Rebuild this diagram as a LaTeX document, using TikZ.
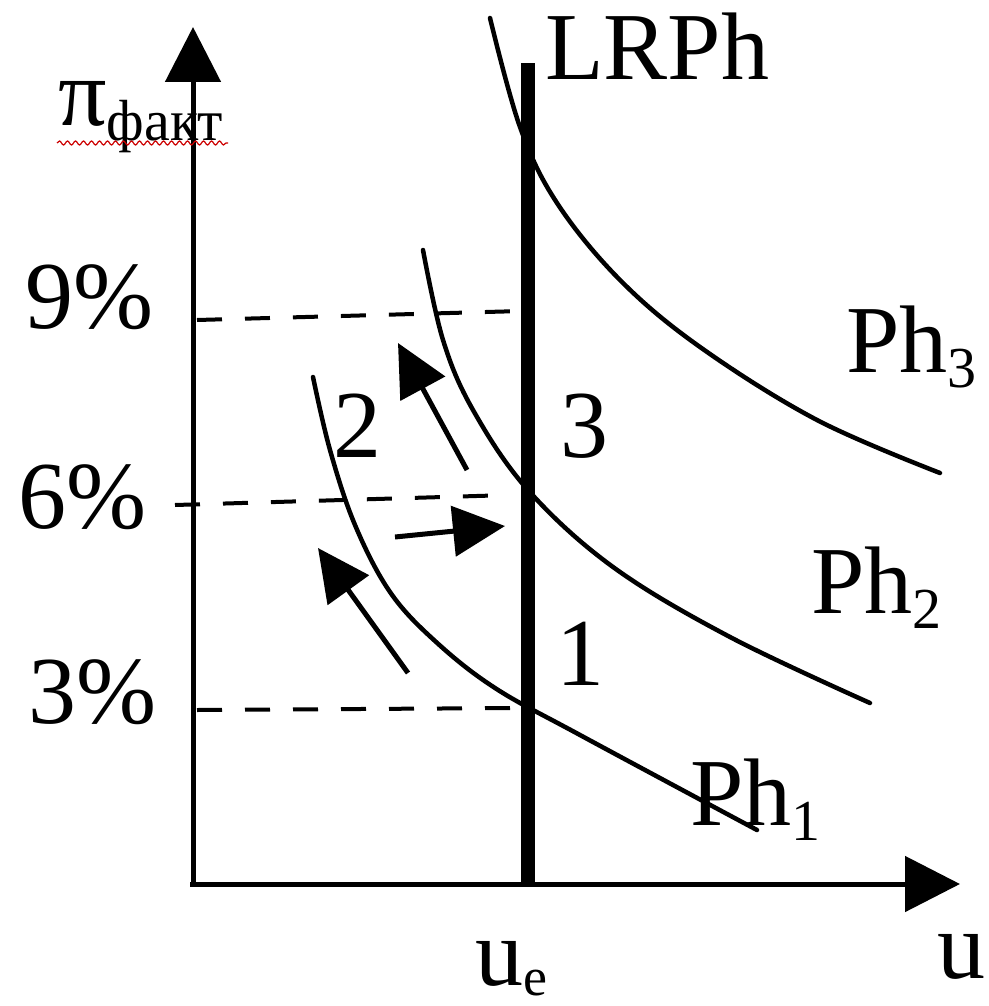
\documentclass[tikz,border=0pt]{standalone}
\usepackage{fontspec}
\setmainfont{Liberation Serif}
\newfontfamily\tnr{Liberation Serif}
\usetikzlibrary{arrows.meta,decorations.pathmorphing}
\newcommand\subx[1]{\raisebox{-15pt}{\fontsize{58}{60}\selectfont #1}}
\tikzset{
  lbl/.style={inner sep=0pt, anchor=base west, font=\tnr\fontsize{96}{100}\selectfont},
  axisline/.style={line width=5pt, -{Triangle[length=55pt,width=55pt]}},
  curve/.style={line width=4.5pt, line cap=round},
  guide/.style={line width=4pt, dash pattern=on 25pt off 23pt},
  movearrow/.style={line width=5pt, -{Triangle[length=52pt,width=50pt]}},
}
\begin{document}
\begin{tikzpicture}[x=1pt,y=-1pt]
\useasboundingbox (0,0) rectangle (988,1006);
% coordinates
\coordinate (O) at (193,884);
\coordinate (ytip) at (193,27);
\coordinate (xstart) at (190,884);
\coordinate (xtip) at (960,884);
\coordinate (lrtop) at (528,63);
\coordinate (lrbot) at (528,884);
% dashed guides
\coordinate (g9a) at (197,320); \coordinate (g9b) at (522,311);
\coordinate (g6a) at (175,505); \coordinate (g6b) at (510,495);
\coordinate (g3a) at (197,710); \coordinate (g3b) at (522,708);
\draw[guide] (g9a) -- (g9b);
\draw[guide] (g6a) -- (g6b);
\draw[guide] (g3a) -- (g3b);
% axes
\draw[axisline] (O) -- (ytip);
\draw[axisline] (xstart) -- (xtip);
% LRPh
\draw[line width=14pt] (lrbot) -- (lrtop);
% Phillips curves
\draw[curve] plot[smooth, tension=0.6] coordinates {(490,18) (520,127) (557,203) (620,280) (700,347) (817,420) (940,473)};
\draw[curve] plot[smooth, tension=0.6] coordinates {(423,250) (443,340) (473,410) (528,490) (613,567) (730,637) (870,703)};
\draw[curve] plot[smooth, tension=0.6] coordinates {(313,377) (330,450) (355,525) (390,592) (435,641) (495,688) (580,735) (757,830)};
% movement arrows
\coordinate (a1s) at (408,673); \coordinate (a1e) at (318,548);
\coordinate (a2s) at (395,537); \coordinate (a2e) at (505,526);
\coordinate (a3s) at (467,470); \coordinate (a3e) at (398,343);
\draw[movearrow] (a1s) -- (a1e);
\draw[movearrow] (a2s) -- (a2e);
\draw[movearrow] (a3s) -- (a3e);
% labels
\node[lbl] (pi) at (58,125) {π\subx{факт}};
\draw[red!80!black, line width=1.2pt, decorate, decoration={snake, segment length=8pt, amplitude=2pt}] (57,143) -- (228,143);
\node[lbl] (lrph) at (545,80) {LRPh};
\node[lbl] (p9) at (25,328) {9\%};
\node[lbl] (p6) at (18,528) {6\%};
\node[lbl] (p3) at (28,723) {3\%};
\node[lbl] (ph3) at (846,372) {Ph\subx{3}};
\node[lbl] (ph2) at (811,613) {Ph\subx{2}};
\node[lbl] (ph1) at (690,825) {Ph\subx{1}};
\node[lbl] (n1) at (556,685) {1};
\node[lbl] (n2) at (333,457) {2};
\node[lbl] (n3) at (560,457) {3};
\node[lbl] (ue) at (475,985) {u\raisebox{-10pt}{\fontsize{54}{56}\selectfont e}};
\node[lbl] (u) at (937,978) {u};
\end{tikzpicture}
\end{document}
